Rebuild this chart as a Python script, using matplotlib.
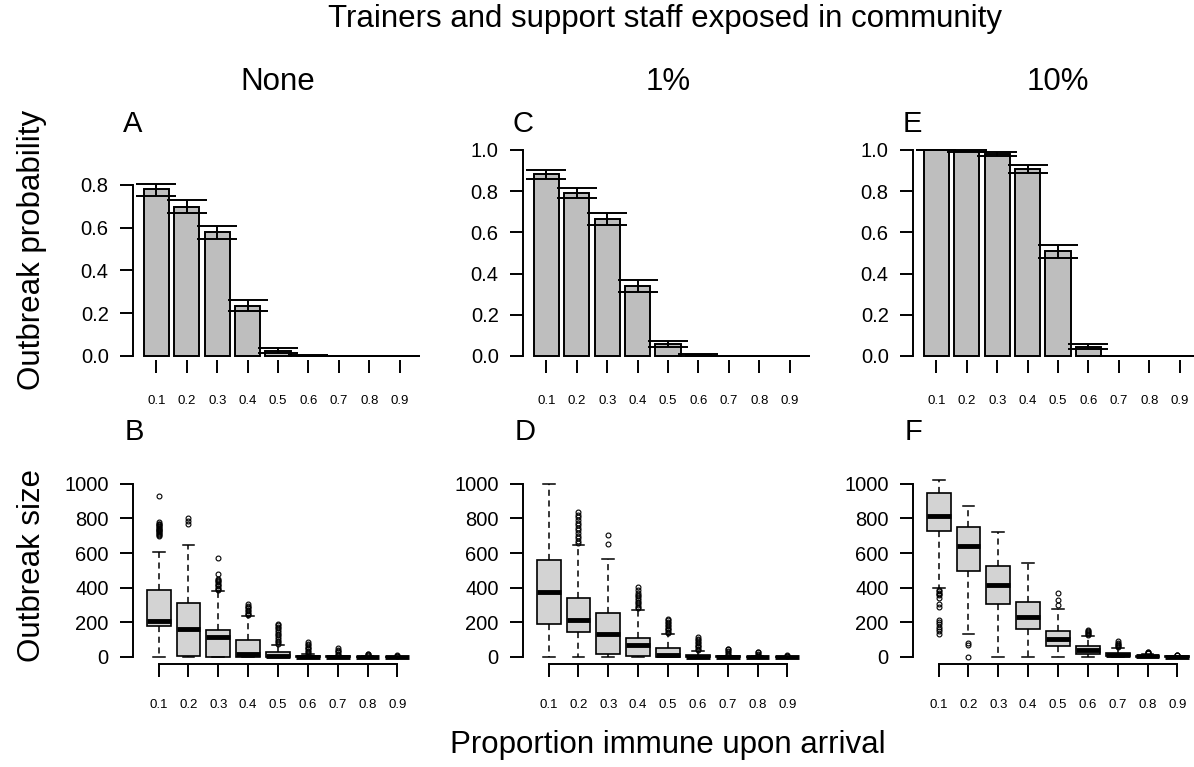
import matplotlib
matplotlib.use("Agg")
import matplotlib.pyplot as plt
import numpy as np

plt.rcParams['font.family'] = ['Liberation Sans', 'DejaVu Sans']

# proportion immune upon arrival (x categories)
labels = ["0.1", "0.2", "0.3", "0.4", "0.5", "0.6", "0.7", "0.8", "0.9"]
col_titles = ["None", "1%", "10%"]
top_letters = ["A", "C", "E"]
bot_letters = ["B", "D", "F"]

# outbreak probability with lower/upper CI
prob_A = [0.780, 0.699, 0.578, 0.236, 0.023, 0.001, 0.0, 0.0, 0.0]
lo_A = [0.750, 0.668, 0.547, 0.210, 0.012, 0.0, 0.0, 0.0, 0.0]
hi_A = [0.803, 0.730, 0.609, 0.264, 0.039, 0.003, 0.0, 0.0, 0.0]

prob_C = [0.883, 0.791, 0.667, 0.340, 0.057, 0.004, 0.0, 0.0, 0.0]
lo_C = [0.861, 0.765, 0.634, 0.309, 0.042, 0.001, 0.0, 0.0, 0.0]
hi_C = [0.903, 0.817, 0.693, 0.369, 0.074, 0.008, 0.0, 0.0, 0.0]

prob_E = [1.0, 0.995, 0.982, 0.908, 0.508, 0.044, 0.001, 0.0, 0.0]
lo_E = [0.999, 0.991, 0.973, 0.889, 0.477, 0.035, 0.0, 0.0, 0.0]
hi_E = [1.0, 0.998, 0.989, 0.926, 0.539, 0.060, 0.002, 0.0, 0.0]

# outbreak size box summaries
q1_B = [177, 3, 2, 0, 0, 0, 0, 0, 0]
med_B = [206, 162, 115, 15, 6, 1, 0, 0, 0]
q3_B = [388, 312, 154, 100, 29, 6, 3, 2, 1]
wlo_B = [0, 0, 0, 0, 0, 0, 0, 0, 0]
whi_B = [606, 648, 379, 235, 67, 15, 7, 4, 2]
out_B = [
    [700, 705, 710, 715, 720, 725, 730, 735, 740, 745, 750, 755, 760, 765, 770, 778, 927],
    [770, 785, 800],
    [385, 392, 400, 408, 415, 422, 430, 438, 445, 452, 481, 571],
    [240, 248, 256, 264, 272, 280, 288, 296, 304],
    [75, 85, 95, 105, 115, 125, 135, 145, 155, 165, 175, 185, 192],
    [20, 28, 36, 44, 52, 60, 68, 76, 84],
    [10, 18, 26, 34, 42, 50],
    [8, 12, 16, 20],
    [5, 8, 11],
]

q1_D = [192, 144, 15, 4, 0, 0, 0, 0, 0]
med_D = [373, 212, 135, 67, 10, 2, 0, 0, 0]
q3_D = [558, 342, 254, 112, 54, 10, 3, 2, 1]
wlo_D = [0, 0, 0, 0, 0, 0, 0, 0, 0]
whi_D = [1000, 644, 563, 273, 131, 33, 8, 5, 2]
out_D = [
    [],
    [655, 670, 685, 700, 715, 730, 745, 760, 775, 790, 805, 820, 837],
    [654, 702],
    [280, 290, 300, 310, 320, 330, 340, 350, 360, 370, 385, 404],
    [138, 146, 154, 162, 170, 178, 186, 194, 202, 212, 221],
    [40, 48, 56, 64, 72, 80, 88, 96, 104, 115],
    [12, 20, 28, 36, 44, 48],
    [8, 14, 20, 26, 29],
    [5, 8, 10],
]

q1_F = [725, 496, 306, 162, 62, 15, 6, 1, 0]
med_F = [812, 640, 417, 231, 104, 42, 13, 4, 1]
q3_F = [946, 748, 523, 317, 150, 63, 23, 8, 3]
wlo_F = [398, 135, 0, 0, 0, 0, 0, 0, 0]
whi_F = [1019, 871, 723, 540, 279, 121, 50, 20, 8]
out_F = [
    [385, 378, 370, 362, 355, 340, 308, 290, 212, 200, 188, 175, 160, 148, 135],
    [83, 67, 0],
    [],
    [],
    [298, 331, 371],
    [126, 132, 138, 144, 150, 158],
    [56, 62, 68, 74, 80, 92],
    [22, 25, 28, 31],
    [10, 12, 14],
]

W, H = 1194, 767
fig = plt.figure(figsize=(W / 100, H / 100), dpi=100)


def px_axes(left, top, right, bottom):
    return fig.add_axes([left / W, 1 - bottom / H, (right - left) / W, (bottom - top) / H])


def style_axes(ax):
    for s in ['top', 'right']:
        ax.spines[s].set_visible(False)
    for s in ['left', 'bottom']:
        ax.spines[s].set_linewidth(1.4)
    ax.tick_params(axis='y', direction='out', length=9.5, width=1.4, pad=8, labelsize=14.5)
    ax.tick_params(axis='x', direction='out', length=9, width=1.4, pad=16, labelsize=9.5)


top_data = [(prob_A, lo_A, hi_A, 213.75, 0.8), (prob_C, lo_C, hi_C, 206.0, 1.0),
            (prob_E, lo_E, hi_E, 206.0, 1.0)]
bot_data = [(q1_B, med_B, q3_B, wlo_B, whi_B, out_B),
            (q1_D, med_D, q3_D, wlo_D, whi_D, out_D),
            (q1_F, med_F, q3_F, wlo_F, whi_F, out_F)]

bar_x = 0.7 + 1.2 * np.arange(len(labels))
box_x = np.arange(1, len(labels) + 1)

for j in range(3):
    left = 133 + 390 * j
    right = left + 290

    # --- outbreak probability bars ---
    p, lo, hi, scale, ymax = top_data[j]
    p = np.array(p)
    ax = px_axes(left, 140, right, 360)
    ax.bar(bar_x, p, width=1.0, color='#BEBEBE', edgecolor='black', linewidth=1.4)
    ax.errorbar(bar_x, p, yerr=[p - np.array(lo), np.array(hi) - p], fmt='none',
                ecolor='black', elinewidth=1.4, capsize=14.5, capthick=1.4)
    ax.set_xlim(-0.224, 11.224)
    ax.set_ylim(-4 / scale, (356 - 140) / scale)
    style_axes(ax)
    ax.spines['bottom'].set_visible(False)
    ax.spines['left'].set_bounds(0, ymax)
    yt = np.arange(0, ymax + 0.01, 0.2)
    ax.set_yticks(yt)
    ax.set_yticklabels(["%.1f" % v for v in yt])
    ax.set_xticks(bar_x)
    ax.set_xticklabels(labels)
    fig.text((left - 10) / W, 1 - 132 / H, top_letters[j], fontsize=21, ha='left',
             va='baseline')
    fig.text((left + right) / 2 / W, 1 - 82 / H, col_titles[j], fontsize=22.5,
             ha='center', va='center')

    # --- outbreak size boxes ---
    q1, med, q3, wlo, whi, outs = bot_data[j]
    stats = []
    for k in range(len(labels)):
        stats.append(dict(q1=q1[k], med=med[k], q3=q3[k], whislo=wlo[k], whishi=whi[k],
                          fliers=outs[k]))
    ax2 = px_axes(left, 470, right, 664)
    ax2.bxp(stats, positions=box_x, widths=0.8, patch_artist=True, manage_ticks=False,
            boxprops=dict(facecolor='#D3D3D3', edgecolor='black', linewidth=1.2),
            medianprops=dict(color='black', linewidth=3.5, solid_capstyle='butt'),
            whiskerprops=dict(color='black', linewidth=1.1, linestyle=(0, (4, 3))),
            capprops=dict(color='black', linewidth=1.1),
            flierprops=dict(marker='o', markersize=3.5, markerfacecolor='none',
                            markeredgecolor='black', markeredgewidth=0.8))
    ax2.set_xlim(0.14, 9.86)
    ax2.set_ylim(-7 / 0.1733, (657 - 470) / 0.1733)
    style_axes(ax2)
    ax2.spines['left'].set_bounds(0, 1000)
    ax2.spines['bottom'].set_bounds(1, 9)
    ax2.set_yticks([0, 200, 400, 600, 800, 1000])
    ax2.set_xticks(box_x)
    ax2.set_xticklabels(labels)
    fig.text((left - 8) / W, 1 - 440 / H, bot_letters[j], fontsize=21, ha='left',
             va='baseline')

fig.text(665 / W, 1 - 19 / H, "Trainers and support staff exposed in community",
         fontsize=22.5, ha='center', va='center')
fig.text(668 / W, 1 - 745 / H, "Proportion immune upon arrival", fontsize=22.5,
         ha='center', va='center')
fig.text(32 / W, 1 - 250 / H, "Outbreak probability", fontsize=22.5, rotation=90,
         ha='center', va='center')
fig.text(32 / W, 1 - 565 / H, "Outbreak size", fontsize=22.5, rotation=90,
         ha='center', va='center')

fig.savefig("out.png", dpi=100)
